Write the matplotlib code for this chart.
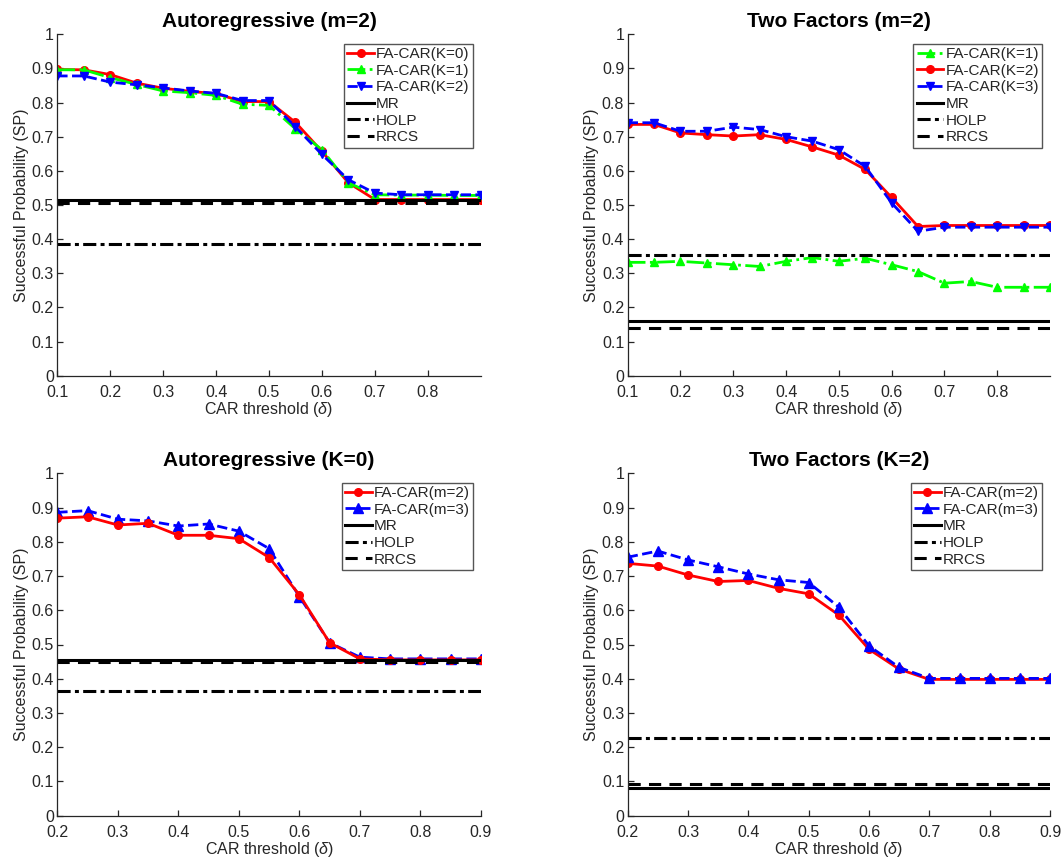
import matplotlib
matplotlib.use("Agg")
import matplotlib.pyplot as plt
import numpy as np

plt.rcParams['font.family'] = ['Liberation Sans', 'DejaVu Sans']
plt.rcParams['mathtext.fontset'] = 'custom'
plt.rcParams['mathtext.it'] = 'Liberation Sans:italic'
plt.rcParams['mathtext.rm'] = 'Liberation Sans'

# ---------------- data ----------------
x_top = [0.10, 0.15, 0.20, 0.25, 0.30, 0.35, 0.40, 0.45, 0.50, 0.55, 0.60, 0.65, 0.70, 0.75, 0.80, 0.85, 0.90]
x_bot = [0.20, 0.25, 0.30, 0.35, 0.40, 0.45, 0.50, 0.55, 0.60, 0.65, 0.70, 0.75, 0.80, 0.85, 0.90]

# Panel 1: Autoregressive (m=2)
ar_m2_k0 = [0.897, 0.896, 0.882, 0.857, 0.842, 0.833, 0.826, 0.803, 0.803, 0.742, 0.657, 0.565, 0.516, 0.516, 0.516, 0.516, 0.516]
ar_m2_k1 = [0.896, 0.896, 0.873, 0.853, 0.834, 0.829, 0.821, 0.795, 0.792, 0.723, 0.662, 0.565, 0.530, 0.529, 0.529, 0.528, 0.528]
ar_m2_k2 = [0.878, 0.878, 0.860, 0.852, 0.843, 0.834, 0.827, 0.806, 0.806, 0.729, 0.648, 0.574, 0.535, 0.530, 0.530, 0.530, 0.530]
ar_m2_mr, ar_m2_holp, ar_m2_rrcs = 0.516, 0.386, 0.506

# Panel 2: Two Factors (m=2)
tf_m2_k1 = [0.332, 0.332, 0.335, 0.330, 0.325, 0.320, 0.335, 0.346, 0.335, 0.344, 0.325, 0.305, 0.271, 0.276, 0.259, 0.259, 0.259]
tf_m2_k2 = [0.736, 0.736, 0.711, 0.706, 0.702, 0.706, 0.692, 0.670, 0.646, 0.604, 0.522, 0.437, 0.440, 0.440, 0.440, 0.440, 0.440]
tf_m2_k3 = [0.741, 0.741, 0.716, 0.716, 0.728, 0.721, 0.700, 0.687, 0.662, 0.613, 0.506, 0.423, 0.435, 0.435, 0.435, 0.435, 0.435]
tf_m2_mr, tf_m2_holp, tf_m2_rrcs = 0.160, 0.354, 0.139

# Panel 3: Autoregressive (K=0)
ar_k0_m2 = [0.869, 0.873, 0.849, 0.854, 0.819, 0.819, 0.809, 0.754, 0.645, 0.505, 0.458, 0.455, 0.455, 0.455, 0.455]
ar_k0_m3 = [0.886, 0.891, 0.866, 0.861, 0.846, 0.852, 0.831, 0.780, 0.640, 0.505, 0.463, 0.458, 0.458, 0.458, 0.458]
ar_k0_mr, ar_k0_holp, ar_k0_rrcs = 0.455, 0.365, 0.450

# Panel 4: Two Factors (K=2)
tf_k2_m2 = [0.737, 0.729, 0.703, 0.684, 0.687, 0.664, 0.648, 0.586, 0.486, 0.428, 0.398, 0.398, 0.398, 0.398, 0.398]
tf_k2_m3 = [0.755, 0.773, 0.747, 0.727, 0.706, 0.689, 0.681, 0.609, 0.496, 0.433, 0.401, 0.401, 0.401, 0.401, 0.401]
tf_k2_mr, tf_k2_holp, tf_k2_rrcs = 0.080, 0.226, 0.092

xticks_top = [0.1, 0.2, 0.3, 0.4, 0.5, 0.6, 0.7, 0.8]
xticks_bot = [0.2, 0.3, 0.4, 0.5, 0.6, 0.7, 0.8, 0.9]
yticks = [0, 0.1, 0.2, 0.3, 0.4, 0.5, 0.6, 0.7, 0.8, 0.9, 1]
yticklabels = ['0', '0.1', '0.2', '0.3', '0.4', '0.5', '0.6', '0.7', '0.8', '0.9', '1']

# ---------------- styles ----------------
LW = 2.0
TXT = '#262626'
RED = '#ff0000'
GREEN = '#00ff00'
BLUE = '#0000ff'
DASHDOT = (0, (4.3, 1.4, 1.3, 1.4))
DASHED = (0, (4.0, 2.7))

fig = plt.figure(figsize=(10.63, 8.61), dpi=100)
W, H = 1063, 861

def make_ax(l, r, t, b):
    return fig.add_axes([l / W, 1 - b / H, (r - l) / W, (b - t) / H])

ax1 = make_ax(57.3, 480.7, 34.3, 375.7)
ax2 = make_ax(627.7, 1050, 34.3, 375.7)
ax3 = make_ax(57.3, 481, 473.3, 815.7)
ax4 = make_ax(627.7, 1050, 473.3, 815.7)

def baselines(ax, xs, mr, holp, rrcs):
    xx = [xs[0], xs[-1]]
    ax.plot(xx, [mr, mr], color='black', lw=LW * 1.1, ls='-', label='MR')
    ax.plot(xx, [holp, holp], color='black', lw=LW * 1.1, ls=DASHDOT, label='HOLP')
    ax.plot(xx, [rrcs, rrcs], color='black', lw=LW * 1.1, ls=DASHED, label='RRCS')

def style(ax, title, xt, xlim):
    ax.set_xlim(*xlim)
    ax.set_ylim(0, 1)
    ax.set_xticks(xt)
    ax.set_xticklabels([f'{v:.1f}' for v in xt])
    ax.set_yticks(yticks)
    ax.set_yticklabels(yticklabels)
    for s in ['top', 'right']:
        ax.spines[s].set_visible(False)
    for s in ['left', 'bottom']:
        ax.spines[s].set_color(TXT)
        ax.spines[s].set_linewidth(0.9)
    ax.tick_params(direction='in', length=4, width=0.9, colors=TXT, labelsize=11.5)
    ax.tick_params(axis='x', pad=6.5)
    ax.tick_params(axis='y', pad=2.5)
    ax.set_title(title, fontsize=15, fontweight='bold', pad=5)
    ax.set_xlabel(r'CAR threshold ($\delta$)', fontsize=11.5, color=TXT, labelpad=0)
    ax.set_ylabel('Successful Probability (SP)', fontsize=11.5, color=TXT, labelpad=2)

def legend(ax, order=None):
    h, l = ax.get_legend_handles_labels()
    if order is not None:
        h = [h[i] for i in order]
        l = [l[i] for i in order]
    leg = ax.legend(h, l, loc='upper right', bbox_to_anchor=(0.982, 0.972), borderaxespad=0,
                    fontsize=11, handlelength=1.75, handletextpad=0.15, labelspacing=0.17,
                    borderpad=0.22, fancybox=False, framealpha=1, edgecolor='#555555')
    leg.get_frame().set_linewidth(1.0)
    for t in leg.get_texts():
        t.set_color(TXT)

# Panel 1
ax1.plot(x_top, ar_m2_k0, color=RED, lw=LW, ls='-', marker='o', ms=5.5, label='FA-CAR(K=0)')
ax1.plot(x_top, ar_m2_k1, color=GREEN, lw=LW, ls='-.', marker='^', ms=6, label='FA-CAR(K=1)')
ax1.plot(x_top, ar_m2_k2, color=BLUE, lw=LW, ls='--', marker='v', ms=6, label='FA-CAR(K=2)')
baselines(ax1, x_top, ar_m2_mr, ar_m2_holp, ar_m2_rrcs)
style(ax1, 'Autoregressive (m=2)', xticks_top, (0.1, 0.9))
legend(ax1)

# Panel 2
ax2.plot(x_top, tf_m2_k1, color=GREEN, lw=LW, ls='-.', marker='^', ms=6, label='FA-CAR(K=1)')
ax2.plot(x_top, tf_m2_k2, color=RED, lw=LW, ls='-', marker='o', ms=5.5, label='FA-CAR(K=2)')
ax2.plot(x_top, tf_m2_k3, color=BLUE, lw=LW, ls='--', marker='v', ms=6, label='FA-CAR(K=3)')
baselines(ax2, x_top, tf_m2_mr, tf_m2_holp, tf_m2_rrcs)
style(ax2, 'Two Factors (m=2)', xticks_top, (0.1, 0.9))
legend(ax2)

# Panel 3
ax3.plot(x_bot, ar_k0_m3, color=BLUE, lw=LW, ls='--', marker='^', ms=6.5, label='FA-CAR(m=3)')
ax3.plot(x_bot, ar_k0_m2, color=RED, lw=LW, ls='-', marker='o', ms=5.5, label='FA-CAR(m=2)')
baselines(ax3, x_bot, ar_k0_mr, ar_k0_holp, ar_k0_rrcs)
style(ax3, 'Autoregressive (K=0)', xticks_bot, (0.2, 0.9))
legend(ax3, order=[1, 0, 2, 3, 4])

# Panel 4
ax4.plot(x_bot, tf_k2_m2, color=RED, lw=LW, ls='-', marker='o', ms=5.5, label='FA-CAR(m=2)')
ax4.plot(x_bot, tf_k2_m3, color=BLUE, lw=LW, ls='--', marker='^', ms=6.5, label='FA-CAR(m=3)')
baselines(ax4, x_bot, tf_k2_mr, tf_k2_holp, tf_k2_rrcs)
style(ax4, 'Two Factors (K=2)', xticks_bot, (0.2, 0.9))
legend(ax4)

fig.savefig('out.png', dpi=100)
